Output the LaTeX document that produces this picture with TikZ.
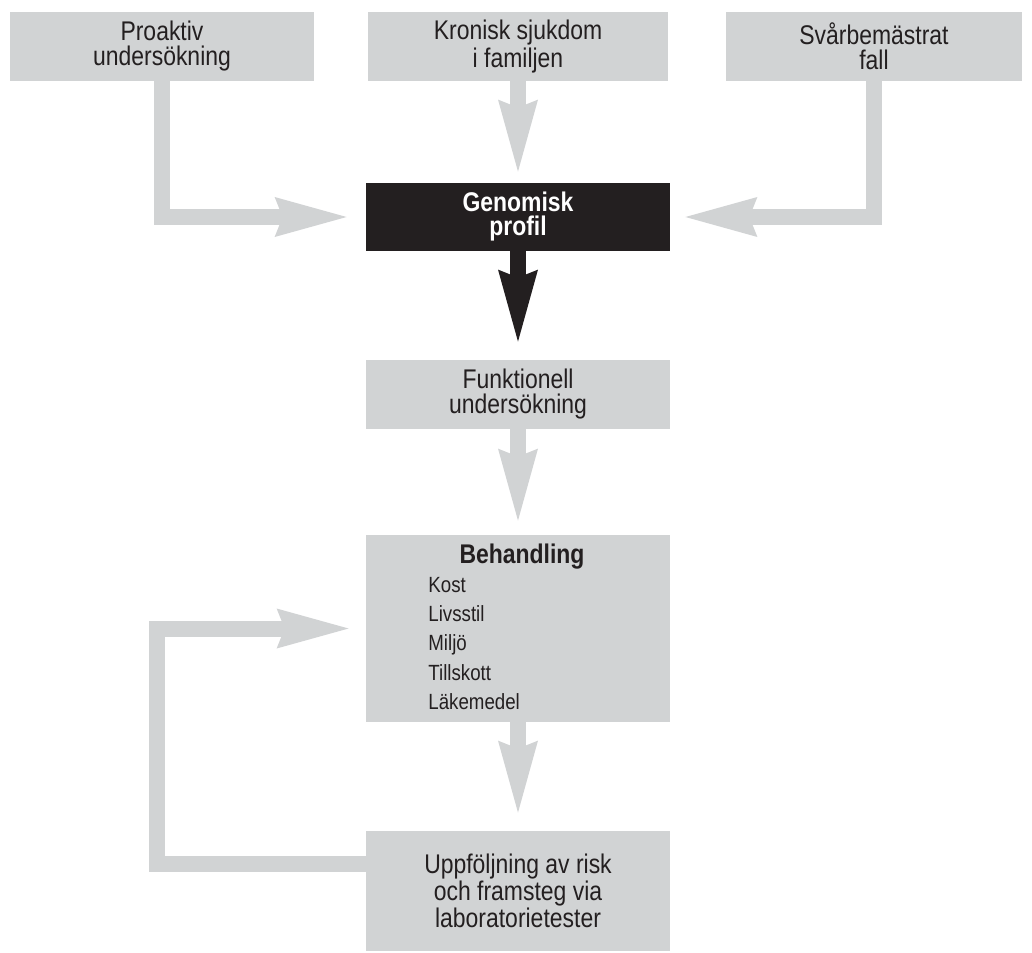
\documentclass[tikz,border=0pt]{standalone}
\usepackage{fontspec}
\setmainfont[FakeStretch=0.85]{Liberation Sans}
\usetikzlibrary{arrows.meta}
\definecolor{boxgray}{RGB}{209,211,212}
\definecolor{ink}{RGB}{35,31,32}

\begin{document}
\begin{tikzpicture}[x=0.5pt,y=-0.5pt,
  box/.style={fill=boxgray,text=ink,inner sep=0pt,minimum width=152pt,minimum height=34.5pt,align=center,font=\fontsize{13.5}{12.5}\selectfont},
  darkbox/.style={box,fill=ink,text=white,font=\fontsize{13.5}{12}\selectfont\bfseries},
  flow/.style={draw=boxgray,line width=8pt,-{Stealth[length=36pt,width=20pt,inset=4pt,line width=0pt]}},
  darkflow/.style={flow,draw=ink},
  listitem/.style={text=ink,inner sep=0pt,anchor=base west,font=\fontsize{11}{12}\selectfont}]
\useasboundingbox (0,0) rectangle (1032,952);
\node[box] (proaktiv) at (162,46.5) {Proaktiv\\undersökning};
\node[box,minimum width=150pt] (kronisk) at (518,46.5) {Kronisk sjukdom\\i familjen};
\node[box,minimum width=148pt] (svar) at (874,46.5) {Svårbemästrat\\fall};
\node[darkbox,minimum height=34pt] (genom) at (518,217) {Genomisk\\profil};
\node[box] (funk) at (518,394.5) {Funktionell\\undersökning};
\node[box,minimum height=93.5pt] (beh) at (518,628.5) {};
\node[text=ink,inner sep=0pt,anchor=base,font=\fontsize{13.5}{12}\selectfont\bfseries] (behtitle) at (522,563) {Behandling};
\foreach \entry [count=\i] in {Kost,Livsstil,Miljö,Tillskott,Läkemedel}
  \node[listitem] (entry\i) at (428,563+29.3*\i) {\entry};
\node[box,minimum height=60pt] (upp) at (518,891) {Uppföljning av risk\\och framsteg via\\laboratorietester};

\draw[flow] (proaktiv.south) |- ([xshift=-9.5pt]genom.west);
\draw[flow] (kronisk.south) -- ([yshift=5.5pt]genom.north);
\draw[flow] (svar.south) |- ([xshift=7.5pt]genom.east);
\draw[darkflow] (genom.south) -- ([yshift=9pt]funk.north);
\draw[flow] (funk.south) -- ([yshift=7pt]beh.north);
\draw[flow] (beh.south) -- ([yshift=9pt]upp.north);
\draw[flow] ([yshift=13.5pt]upp.west) -- ++(-209,0) |- ([xshift=-8.5pt]beh.west);
\end{tikzpicture}
\end{document}
